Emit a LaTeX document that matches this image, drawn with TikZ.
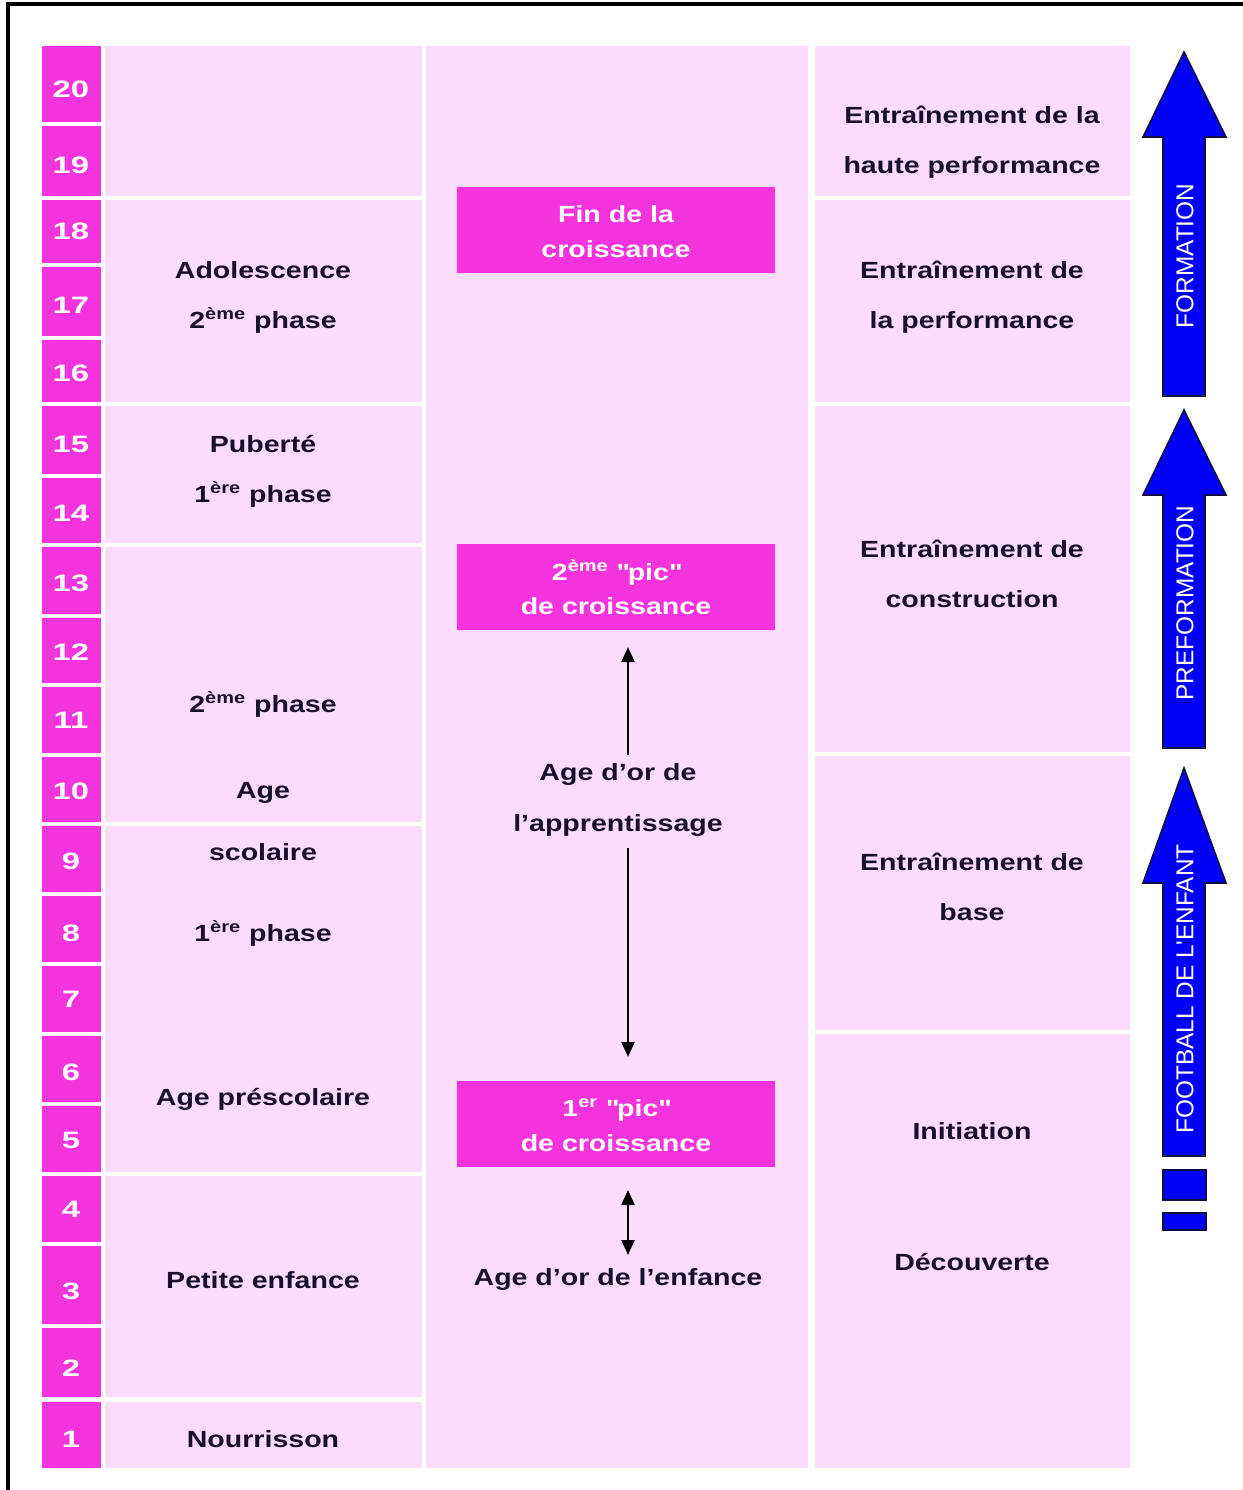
\documentclass[tikz,border=0pt]{standalone}
\usepackage{fontspec}
\setmainfont{Liberation Sans}[FakeStretch=1.22]
\newfontfamily\arrowfont{Liberation Sans}
\newfontfamily\numfont{Liberation Sans}[FakeStretch=1.38]
\usetikzlibrary{arrows.meta,calc}
\definecolor{cellpink}{RGB}{252,220,252}
\definecolor{magbox}{RGB}{243,51,220}
\definecolor{txtc}{RGB}{25,15,45}
\definecolor{arrblue}{RGB}{0,0,250}
\definecolor{arredge}{RGB}{15,15,70}
\begin{document}
\begin{tikzpicture}[x=0.5pt,y=-0.5pt,
  cell/.style={fill=cellpink},
  numcell/.style={fill=magbox},
  lbl/.style={font=\fontsize{11.7}{14}\selectfont\bfseries, text=txtc, inner sep=0pt, anchor=base},
  numlbl/.style={font=\numfont\fontsize{11.9}{14}\selectfont\bfseries, text=white, inner sep=0pt, anchor=base},
  boxlbl/.style={font=\fontsize{11.7}{14}\selectfont\bfseries, text=white, inner sep=0pt, anchor=base},
  picbox/.style={fill=magbox, minimum width=159pt, minimum height=43pt, inner sep=0pt},
  bigarrow/.style={fill=arrblue, draw=arredge, line width=0.8pt, line join=miter},
  arrlbl/.style={font=\arrowfont\fontsize{12.2}{14}\selectfont, text=white, rotate=90, inner sep=0pt},
  conn/.style={line width=1.1pt, black},
  mytip/.tip={Triangle[length=7.5pt,width=6.5pt]}
]
\useasboundingbox (0,0) rectangle (1243,1490);
\fill[white] (0,0) rectangle (1243,1490);
% frame
\draw[line width=1.75pt] (8,1490) -- (8,4) -- (1243,4);

% number column
\foreach \t/\b/\n/\c in {46/122/20/88, 126/196/19/164, 200/263/18/230, 267/336/17/304, 340/402/16/372,
  406/474/15/443, 478/543/14/512, 547/614/13/582, 618/683/12/651, 687/753/11/719,
  757/822/10/790, 826/892/9/860, 896/962/8/932, 966/1032/7/998, 1036/1102/6/1071,
  1106/1172/5/1139, 1176/1242/4/1208, 1246/1324/3/1290, 1328/1397/2/1367, 1402/1468/1/1438}{
  \fill[numcell] (42,\t) rectangle (101,\b);
  \node[numlbl] (n\n) at (71,\c+9) {\n};
}

% left column cells
\foreach \t/\b in {46/196, 200/402, 406/543, 547/822, 826/1172, 1176/1397, 1402/1468}{
  \fill[cell] (105,\t) rectangle (422,\b);
}
% middle column
\fill[cell] (426,46) rectangle (808,1468);
% right column
\foreach \t/\b in {46/196, 200/402, 406/752, 756/1030, 1034/1468}{
  \fill[cell] (815,\t) rectangle (1130,\b);
}

% left texts
\node[lbl] (adoA) at (263,278) {Adolescence};
\node[lbl] (adoB) at (263,328) {2\textsuperscript{ème} phase};
\node[lbl] (pubA) at (263,452) {Puberté};
\node[lbl] (pubB) at (263,502) {1\textsuperscript{ère} phase};
\node[lbl] (scA) at (263,712) {2\textsuperscript{ème} phase};
\node[lbl] (scB) at (263,798) {Age};
\node[lbl] (scC) at (263,860) {scolaire};
\node[lbl] (scD) at (263,941) {1\textsuperscript{ère} phase};
\node[lbl] (presc) at (263,1105) {Age préscolaire};
\node[lbl] (petite) at (263,1288) {Petite enfance};
\node[lbl] (nour) at (263,1447) {Nourrisson};

% middle boxes
\node[picbox] (fin) at (616,230) {};
\node[boxlbl] (finA) at (616,222) {Fin de la};
\node[boxlbl] (finB) at (616,257) {croissance};
\node[picbox] (pic2) at (616,587) {};
\node[boxlbl] (pic2A) at (616,580) {2\textsuperscript{ème} \textquotedbl pic\textquotedbl};
\node[boxlbl] (pic2B) at (616,614) {de croissance};
\node[picbox] (pic1) at (616,1124) {};
\node[boxlbl] (pic1A) at (616,1116) {1\textsuperscript{er} \textquotedbl pic\textquotedbl};
\node[boxlbl] (pic1B) at (616,1151) {de croissance};

\node[lbl] (appA) at (618,780) {Age d’or de};
\node[lbl] (appB) at (618,831) {l’apprentissage};
\node[lbl] (enf) at (618,1285) {Age d’or de l’enfance};

% middle connectors
\coordinate (u1) at (628,755);
\coordinate (u2) at (628,647);
\coordinate (d1) at (628,848);
\coordinate (d2) at (628,1057);
\coordinate (e1) at (628,1190);
\coordinate (e2) at (628,1255);
\draw[conn, -{mytip}] (u1) -- (u2);
\draw[conn, -{mytip}] (d1) -- (d2);
\draw[conn, {mytip}-{mytip}] (e1) -- (e2);

% right texts
\node[lbl] (r1A) at (972,123) {Entraînement de la};
\node[lbl] (r1B) at (972,173) {haute performance};
\node[lbl] (r2A) at (972,278) {Entraînement de};
\node[lbl] (r2B) at (972,328) {la performance};
\node[lbl] (r3A) at (972,557) {Entraînement de};
\node[lbl] (r3B) at (972,607) {construction};
\node[lbl] (r4A) at (972,870) {Entraînement de};
\node[lbl] (r4B) at (972,920) {base};
\node[lbl] (r5) at (972,1139) {Initiation};
\node[lbl] (r6) at (972,1270) {Découverte};

% blue arrows
\draw[bigarrow] (1163,396) -- (1163,137) -- (1143,137) -- (1184,52) -- (1226,137) -- (1205,137) -- (1205,396) -- cycle;
\node[arrlbl] (formation) at (1185,256) {FORMATION};
\draw[bigarrow] (1163,748) -- (1163,495) -- (1143,495) -- (1184,410) -- (1226,495) -- (1205,495) -- (1205,748) -- cycle;
\node[arrlbl] (preformation) at (1185,603) {PREFORMATION};
\draw[bigarrow] (1163,1156) -- (1163,883) -- (1143,883) -- (1184,768) -- (1226,883) -- (1205,883) -- (1205,1156) -- cycle;
\node[arrlbl] (football) at (1185,989) {FOOTBALL DE L'ENFANT};
\draw[bigarrow] (1163,1170) rectangle (1206,1200);
\draw[bigarrow] (1163,1213) rectangle (1206,1230);
\end{tikzpicture}
\end{document}
